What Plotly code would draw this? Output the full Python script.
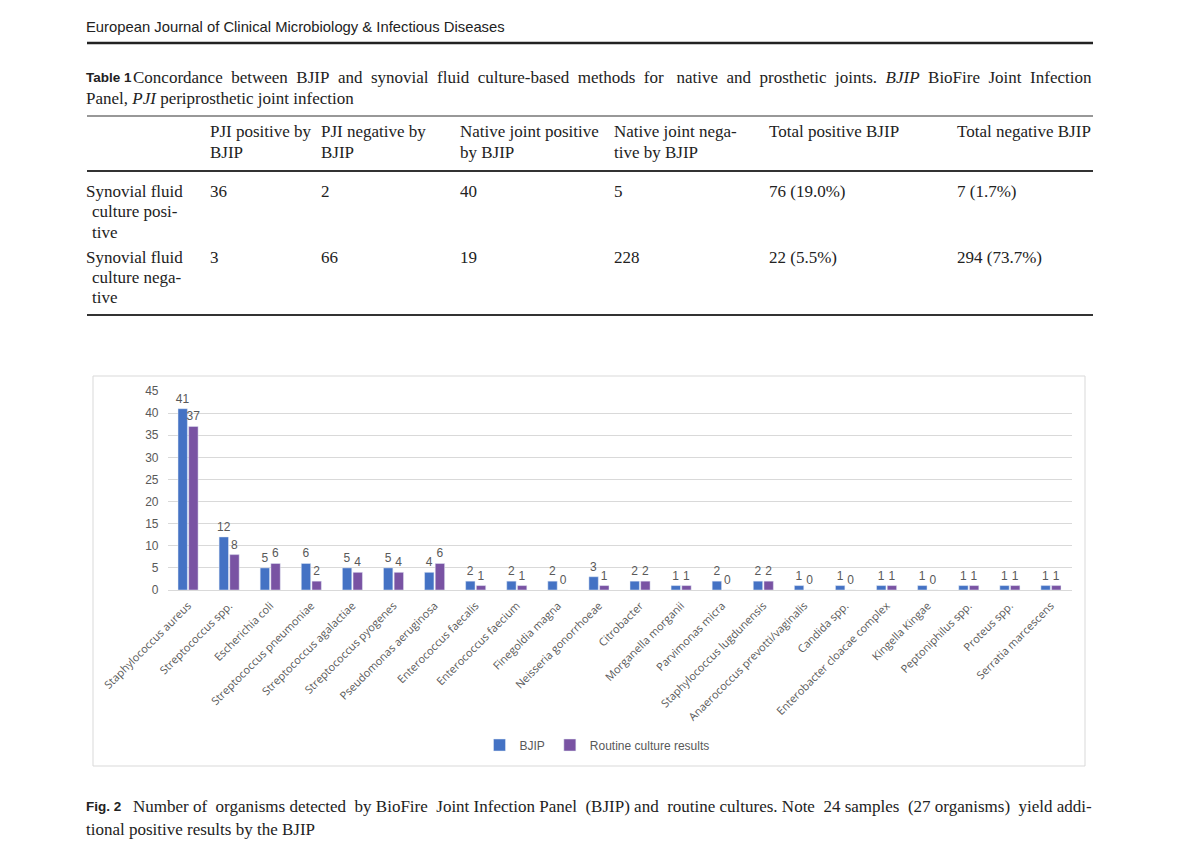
import plotly.graph_objects as go

W, H = 1200, 862

# ---------------- data ----------------
organisms = [
    "Staphylococcus aureus", "Streptococcus spp.", "Escherichia coli",
    "Streptococcus pneumoniae", "Streptococcus agalactiae", "Streptococcus pyogenes",
    "Pseudomonas aeruginosa", "Enterococcus faecalis", "Enterococcus faecium",
    "Finegoldia magna", "Neisseria gonorrhoeae", "Citrobacter",
    "Morganella morganii", "Parvimonas micra", "Staphylococcus lugdunensis",
    "Anaerococcus prevotti/vaginalis", "Candida spp.", "Enterobacter cloacae complex",
    "Kingella Kingae", "Peptoniphilus spp.", "Proteus spp.", "Serratia marcescens",
]
bjip = [41, 12, 5, 6, 5, 5, 4, 2, 2, 2, 3, 2, 1, 2, 2, 1, 1, 1, 1, 1, 1, 1]
routine = [37, 8, 6, 2, 4, 4, 6, 1, 1, 0, 1, 2, 1, 0, 2, 0, 0, 1, 0, 1, 1, 1]
y_ticks = [0, 5, 10, 15, 20, 25, 30, 35, 40, 45]

table_headers = [
    ["PJI positive by", "BJIP"],
    ["PJI negative by", "BJIP"],
    ["Native joint positive", "by BJIP"],
    ["Native joint nega-", "tive by BJIP"],
    ["Total positive BJIP"],
    ["Total negative BJIP"],
]
row_labels = [
    ["Synovial fluid", "culture posi-", "tive"],
    ["Synovial fluid", "culture nega-", "tive"],
]
row_values = [
    ["36", "2", "40", "5", "76 (19.0%)", "7 (1.7%)"],
    ["3", "66", "19", "228", "22 (5.5%)", "294 (73.7%)"],
]

journal = "European Journal of Clinical Microbiology & Infectious Diseases"
table_caption_1 = ("Concordance between BJIP and synovial fluid culture-based methods for native "
                   "and prosthetic joints. <i>BJIP</i> BioFire Joint Infection")
table_caption_2 = "Panel, <i>PJI</i> periprosthetic joint infection"
fig_caption_1 = ("Number of organisms detected by BioFire Joint Infection Panel (BJIP) and routine "
                 "cultures. Note 24 samples (27 organisms) yield addi-")
fig_caption_2 = "tional positive results by the BJIP"

# ---------------- helpers ----------------
OFF = 8  # page body margin

def px(x):
    return (x - OFF) / W

def py(y):
    return 1 - (y - OFF) / H

def justify(s, n_extra):
    """Widen word gaps with non-breaking spaces to imitate justified text."""
    words = s.split(" ")
    gaps = len(words) - 1
    out = words[0]
    prev = 0
    for i, w in enumerate(words[1:]):
        target = round((i + 1) * n_extra / gaps)
        out += "&nbsp;" * (target - prev) + " " + w
        prev = target
    return out

SERIF = "Liberation Serif, Times New Roman, serif"
SANS_J = "Liberation Sans, Arial, sans-serif"
CHART_FONT = "Liberation Sans, Arial, sans-serif"
GRAY = "#595959"
FS = 17

fig = go.Figure()
fig.add_trace(go.Bar(
    x=organisms, y=bjip, name="BJIP", marker_color="#4472C4",
    text=bjip, textposition="outside", cliponaxis=False, constraintext="none",
    textfont=dict(size=12, color=GRAY, family=CHART_FONT),
))
fig.add_trace(go.Bar(
    x=organisms, y=routine, name="Routine culture results", marker_color="#7953A3",
    text=routine, textposition="outside", cliponaxis=False, constraintext="none",
    textfont=dict(size=12, color=GRAY, family=CHART_FONT),
))

annotations = []
shapes = []

def txt(x, y, s, size=FS, family=SERIF, color="#222", xanchor="left", bold=False):
    annotations.append(dict(
        x=px(x), y=py(y), xref="paper", yref="paper", text=("<b>%s</b>" % s) if bold else s,
        showarrow=False, xanchor=xanchor, yanchor="middle",
        font=dict(size=size, family=family, color=color),
    ))

def hline(y, x0, x1, width=1, color="#333"):
    shapes.append(dict(type="line", xref="paper", yref="paper",
                       x0=px(x0), x1=px(x1), y0=py(y), y1=py(y),
                       line=dict(color=color, width=width)))

# journal header
txt(84, 27, journal, size=14.8, family=SANS_J, color="#222")
hline(43, 87, 1093, width=2.5, color="#222")

# table caption
txt(84, 77, "Table 1", size=13.5, family=SANS_J, bold=True)
txt(131, 77, justify(table_caption_1, 17), size=FS)
txt(84, 98, table_caption_2, size=FS)

# table
hline(116, 87, 1093, width=1.2)
hline(171, 87, 1093, width=2)
hline(315, 87, 1093, width=2)
col_x = [208, 319, 458, 612, 767, 955]
for cx, lines in zip(col_x, table_headers):
    for i, line in enumerate(lines):
        txt(cx, 132 + 21 * i, line)
row_y = [191, 257]
for ry, labels, vals in zip(row_y, row_labels, row_values):
    for i, lab in enumerate(labels):
        txt(84 if i == 0 else 90, ry + 20.5 * i, lab)
    for cx, v in zip(col_x, vals):
        txt(cx, ry, v)

# chart frame
shapes.append(dict(type="rect", xref="paper", yref="paper",
                   x0=px(93), x1=px(1085), y0=py(766), y1=py(376),
                   line=dict(color="#d9d9d9", width=1), layer="below"))

# figure caption
txt(84, 806, "Fig. 2", size=13.5, family=SANS_J, bold=True)
txt(131, 806, justify(fig_caption_1, 8), size=FS)
txt(84, 829, fig_caption_2, size=FS)

fig.update_layout(
    width=W, height=H,
    margin=dict(l=0, r=0, t=0, b=0, autoexpand=False),
    paper_bgcolor="white", plot_bgcolor="white",
    barmode="group", bargap=0.48, bargroupgap=0.12,
    xaxis=dict(domain=[px(167.5), px(1071.5)], tickangle=-45, automargin=False,
               tickfont=dict(size=11, family="Open Sans, Liberation Sans, sans-serif", color=GRAY),
               ticklabelstandoff=4,
               showline=True, linecolor="#d9d9d9", linewidth=1, ticks="", showgrid=False),
    yaxis=dict(domain=[py(590), py(391)], range=[0, 45], tickvals=y_ticks, automargin=False,
               tickfont=dict(size=12, family=CHART_FONT, color=GRAY), ticklabelstandoff=8,
               showgrid=True, gridcolor="#d9d9d9", gridwidth=1, zeroline=False,
               ticks="", showline=False),
    legend=dict(orientation="h", x=px(597), xanchor="center", y=py(745), yanchor="middle",
                font=dict(size=12, family=CHART_FONT, color=GRAY), itemwidth=30,
                bgcolor="rgba(0,0,0,0)"),
    annotations=annotations, shapes=shapes,
    font=dict(family=CHART_FONT),
)

fig.write_html("out.html")
